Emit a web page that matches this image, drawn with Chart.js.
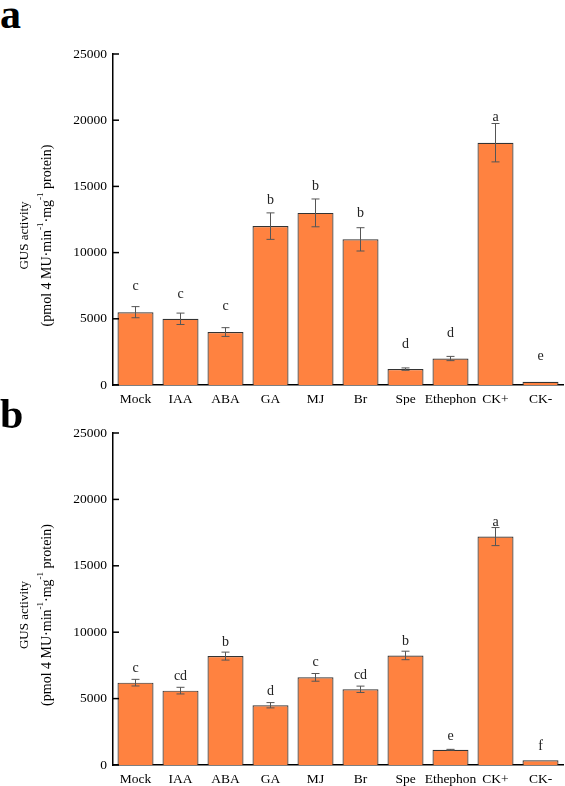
<!DOCTYPE html>
<html>
<head>
<meta charset="utf-8">
<script src="https://cdn.jsdelivr.net/npm/chart.js@4.4.0/dist/chart.umd.min.js"></script>
<style>
  html, body { margin: 0; padding: 0; background: #fff; }
  body { width: 565px; height: 786px; position: relative; overflow: hidden; }
  .panel { position: absolute; left: 0; width: 565px; }
  .letter { position: absolute; left: 0; font-family: "Liberation Serif", serif; font-weight: bold; font-size: 42px; line-height: 1; color: #000; }
</style>
</head>
<body>
<div class="letter" style="top:-7px;">a</div>
<div class="panel" style="top:0; height:405px;"><canvas id="chartA"></canvas></div>
<div class="letter" style="top:393px;">b</div>
<div class="panel" style="top:405px; height:381px;"><canvas id="chartB"></canvas></div>
<script>
// categories
const treatments = ["Mock", "IAA", "ABA", "GA", "MJ", "Br", "Spe", "Ethephon", "CK+", "CK-"];

// panel a
const gusA = [5500, 5000, 4000, 12000, 13000, 11000, 1200, 2000, 18300, 250];
const errA = [420, 430, 330, 1000, 1050, 880, 90, 160, 1450, 0];
const lettersA = ["c", "c", "c", "b", "b", "b", "d", "d", "a", "e"];

// panel b
const gusB = [6200, 5600, 8200, 4500, 6600, 5700, 8250, 1150, 17200, 350];
const errB = [250, 250, 300, 200, 290, 240, 320, 30, 680, 0];
const lettersB = ["c", "cd", "b", "d", "c", "cd", "b", "e", "a", "f"];

const yTicks = [0, 5000, 10000, 15000, 20000, 25000];

const barColor = "rgb(255, 130, 64)";
const serif = '"Liberation Serif", "Times New Roman", serif';

// pixel gap between the top of the error bar and the letter centre
const gapA = [20, 19, 21, 13, 13, 14, 24, 23, 6, 25];
const gapB = [11, 11, 10, 11, 11, 11, 10, 13, 5, 14];

const extrasPlugin = {
  id: "extras",
  afterDatasetsDraw(chart) {
    const ctx = chart.ctx;
    const o = chart.options.plugins.extras;
    const meta = chart.getDatasetMeta(0);
    const y = chart.scales.y;
    ctx.save();
    // error bars
    ctx.strokeStyle = "#555";
    ctx.lineWidth = 1;
    meta.data.forEach((bar, i) => {
      const e = o.errors[i];
      if (!e) return;
      const v = chart.data.datasets[0].data[i];
      const yt = y.getPixelForValue(v + e);
      const yb = y.getPixelForValue(v - e);
      ctx.beginPath();
      ctx.moveTo(bar.x, yt); ctx.lineTo(bar.x, yb);
      ctx.moveTo(bar.x - 4, yt); ctx.lineTo(bar.x + 4, yt);
      ctx.moveTo(bar.x - 4, yb); ctx.lineTo(bar.x + 4, yb);
      ctx.stroke();
    });
    // significance letters
    ctx.fillStyle = "#222";
    ctx.font = "14px " + serif;
    ctx.textAlign = "center";
    ctx.textBaseline = "middle";
    meta.data.forEach((bar, i) => {
      const v = chart.data.datasets[0].data[i];
      const top = y.getPixelForValue(v + (o.errors[i] || 0));
      ctx.fillText(o.letters[i], bar.x, top - o.gaps[i]);
    });
    // inward y ticks
    ctx.strokeStyle = "#000";
    ctx.lineWidth = 1.5;
    yTicks.forEach(t => {
      const py = y.getPixelForValue(t);
      ctx.beginPath();
      ctx.moveTo(chart.chartArea.left, py);
      ctx.lineTo(chart.chartArea.left + 6, py);
      ctx.stroke();
    });
    // y axis title with superscripts
    const cy = (chart.chartArea.top + chart.chartArea.bottom) / 2 + 16;
    ctx.fillStyle = "#000";
    ctx.translate(25, cy);
    ctx.rotate(-Math.PI / 2);
    ctx.font = "13px " + serif;
    ctx.textAlign = "center";
    ctx.fillText("GUS activity", 0, 0);
    ctx.restore();

    ctx.save();
    ctx.fillStyle = "#000";
    ctx.translate(47, cy);
    ctx.rotate(-Math.PI / 2);
    ctx.textBaseline = "middle";
    const parts = [
      ["(pmol 4 MU\u00b7min", false], ["-1", true], ["\u00b7mg", false], ["-1", true], [" protein)", false]
    ];
    const fontFor = sup => (sup ? "9px " : "14px ") + serif;
    let total = 0;
    parts.forEach(p => { ctx.font = fontFor(p[1]); total += ctx.measureText(p[0]).width; });
    let x = -total / 2;
    ctx.textAlign = "left";
    parts.forEach(p => {
      ctx.font = fontFor(p[1]);
      ctx.fillText(p[0], x, p[1] ? -6 : 0);
      x += ctx.measureText(p[0]).width;
    });
    ctx.restore();
  }
};

function makeChart(id, values, errors, letters, gaps, padTop, xHeight) {
  const canvas = document.getElementById(id);
  return new Chart(canvas.getContext("2d"), {
    type: "bar",
    data: {
      labels: treatments,
      datasets: [{
        data: values,
        backgroundColor: barColor,
        borderColor: "#333",
        borderWidth: 1.2,
        barPercentage: 0.8,
        categoryPercentage: 1.0
      }]
    },
    options: {
      responsive: true,
      maintainAspectRatio: false,
      animation: false,
      layout: { padding: { top: padTop, right: 2, left: 0, bottom: 0 } },
      plugins: {
        legend: { display: false },
        tooltip: { enabled: false },
        extras: { errors: errors, letters: letters, gaps: gaps }
      },
      scales: {
        x: {
          grid: { display: false, drawTicks: false },
          border: { display: true, color: "#000", width: 1.5 },
          ticks: { color: "#000", font: { family: serif, size: 13.5 }, padding: 6, maxRotation: 0, autoSkip: false },
          afterFit: s => { s.height = xHeight; }
        },
        y: {
          min: 0,
          max: 25000,
          grid: { display: false, drawTicks: false },
          border: { display: true, color: "#000", width: 1.5 },
          ticks: {
            stepSize: 5000, color: "#000", font: { family: serif, size: 13.5 }, padding: 6,
            callback: v => String(v)
          },
          afterFit: s => { s.width = 113; }
        }
      }
    },
    plugins: [extrasPlugin]
  });
}

makeChart("chartA", gusA, errA, lettersA, gapA, 54, 20);
makeChart("chartB", gusB, errB, lettersB, gapB, 28, 21);
</script>
</body>
</html>
